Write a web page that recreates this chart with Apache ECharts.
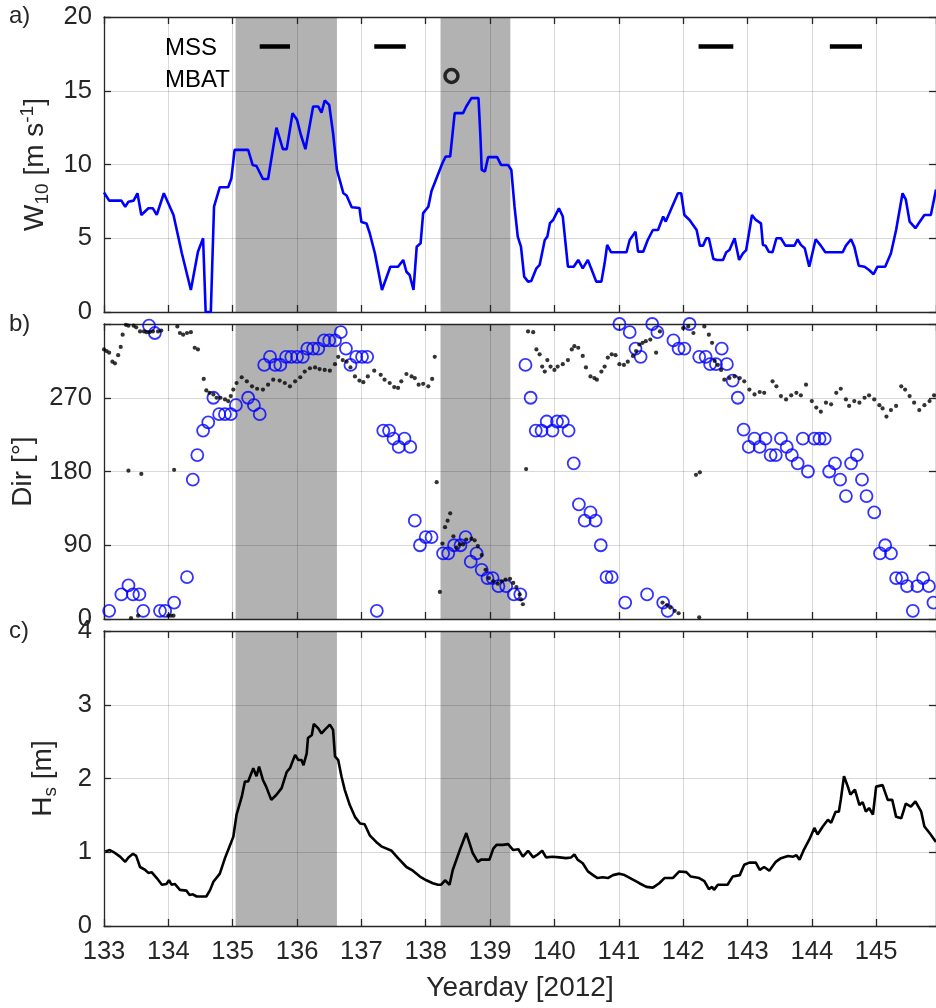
<!DOCTYPE html>
<html><head><meta charset="utf-8">
<script src="https://cdn.jsdelivr.net/npm/echarts@6/dist/echarts.min.js"></script>
<style>html,body{margin:0;padding:0;background:#fff}#c{width:936px;height:1008px}</style>
</head><body><div id="c"></div>
<script>
// ---------------- data ----------------
const dayTicks = [133,134,135,136,137,138,139,140,141,142,143,144,145];
const windTicks = [0,5,10,15,20];
const dirTicks = [0,90,180,270];
const hsTicks = [0,1,2,3,4];
const shadedPeriods = [[135.045,136.62],[138.23,139.315]];
const mssPeriods = [[135.42,135.89],[137.2,137.69],[142.24,142.78],[144.28,144.78]];
const mssLevel = 18;
const mbatPoint = [138.40,16.0];

const windSpeed = [
[133.00,8.1],[133.08,7.55],[133.27,7.55],[133.33,7.14],[133.38,7.48],[133.46,7.55],[133.52,8.05],[133.58,6.58],
[133.69,7.03],[133.76,7.03],[133.82,6.58],[133.93,8.05],[134.08,6.58],[134.21,3.98],[134.35,1.49],[134.46,4.09],
[134.54,5.0],[134.58,0.0],[134.66,0.0],[134.71,7.14],[134.80,8.46],[134.93,8.46],[134.98,9.07],[135.03,10.99],
[135.24,11.0],[135.31,9.97],[135.37,9.9],[135.47,9.02],[135.55,9.02],[135.68,12.5],[135.78,11.04],[135.84,11.04],
[135.93,13.48],[136.00,13.03],[136.06,12.0],[136.13,11.04],[136.25,13.93],[136.33,13.93],[136.38,13.52],[136.43,14.34],
[136.50,14.04],[136.56,12.12],[136.62,9.63],[136.72,8.05],[136.77,7.9],[136.85,7.1],[136.97,7.05],[137.00,6.1],
[137.08,6.0],[137.13,5.34],[137.21,3.98],[137.32,1.49],[137.45,3.07],[137.57,3.07],[137.65,3.53],[137.70,2.73],
[137.75,2.51],[137.81,1.49],[137.86,4.43],[137.92,4.66],[137.96,6.7],[138.04,7.14],[138.09,8.2],[138.26,10.1],
[138.31,10.54],[138.38,10.54],[138.45,13.48],[138.58,13.48],[138.63,13.93],[138.71,14.5],[138.82,14.5],[138.85,11.9],
[138.87,9.63],[138.92,9.52],[138.97,10.5],[139.11,10.5],[139.17,9.97],[139.28,9.97],[139.33,9.63],[139.38,7.14],
[139.43,5.11],[139.48,4.43],[139.53,2.4],[139.59,2.06],[139.64,2.1],[139.72,2.96],[139.77,3.19],[139.85,4.88],
[139.89,5.11],[139.93,6.02],[139.98,6.24],[140.07,7.03],[140.13,6.47],[140.21,3.07],[140.30,3.07],[140.37,3.53],
[140.44,2.96],[140.52,3.53],[140.57,2.96],[140.65,2.06],[140.73,2.06],[140.78,3.3],[140.82,4.55],[140.88,4.05],
[141.12,4.05],[141.17,4.88],[141.26,5.45],[141.30,4.09],[141.38,4.09],[141.45,4.88],[141.53,5.56],[141.61,5.56],
[141.69,6.47],[141.73,6.13],[141.92,8.05],[141.97,8.05],[142.02,6.58],[142.10,6.24],[142.21,5.56],[142.26,4.5],
[142.31,4.5],[142.36,5.0],[142.40,5.0],[142.47,3.6],[142.53,3.53],[142.62,3.53],[142.67,4.05],[142.72,4.2],
[142.80,5.0],[142.87,3.53],[142.93,3.98],[142.98,4.2],[143.07,6.58],[143.13,6.24],[143.21,6.01],[143.24,4.55],
[143.28,4.5],[143.33,4.09],[143.39,4.05],[143.45,5.0],[143.52,5.0],[143.59,4.5],[143.73,4.5],[143.78,4.93],
[143.83,4.55],[143.89,4.32],[143.96,3.07],[143.99,3.07],[144.06,4.93],[144.14,4.5],[144.21,4.05],[144.48,4.05],
[144.53,4.5],[144.61,4.93],[144.66,4.43],[144.73,3.14],[144.82,3.07],[144.89,2.85],[144.96,2.56],[145.02,3.07],
[145.14,3.07],[145.23,3.98],[145.31,5.56],[145.41,8.05],[145.46,7.64],[145.52,6.13],[145.61,5.68],[145.68,6.13],
[145.75,6.58],[145.85,6.58],[145.93,8.3]
];

const waveDir = [
[132.99,21],[133.08,10],[133.27,30],[133.38,41],[133.45,30],[133.55,30],[133.61,10],[133.70,358],[133.79,349],
[133.87,10],[133.95,10],[134.09,20],[134.29,51],[134.38,170],[134.45,200],[134.54,230],[134.62,240],[134.70,270],
[134.79,250],[134.88,250],[134.97,250],[135.05,261],[135.24,270],[135.33,261],[135.42,250],[135.49,310],[135.58,320],
[135.66,310],[135.74,310],[135.83,320],[135.91,320],[136.0,320],[136.09,320],[136.16,330],[136.25,330],[136.33,330],
[136.42,340],[136.5,340],[136.59,340],[136.68,350],[136.76,330],[136.83,310],[136.92,320],[137.01,320],[137.09,320],
[137.24,10],[137.34,230],[137.43,230],[137.5,220],[137.58,210],[137.67,220],[137.76,210],[137.83,120],[137.91,90],
[138.0,100],[138.09,100],[138.27,80],[138.35,80],[138.44,90],[138.54,90],[138.62,100],[138.7,70],[138.79,80],
[138.87,60],[138.96,50],[139.04,50],[139.13,40],[139.25,40],[139.37,30],[139.47,30],[139.55,310],[139.63,270],
[139.71,230],[139.8,230],[139.88,241],[139.97,230],[140.04,241],[140.13,241],[140.22,230],[140.3,190],[140.38,140],
[140.47,120],[140.56,130],[140.64,120],[140.72,90],[140.81,51],[140.89,51],[141.01,360],[141.1,20],[141.17,350],
[141.26,330],[141.34,320],[141.44,30],[141.52,360],[141.6,350],[141.69,20],[141.76,10],[141.85,340],[141.93,330],
[142.02,330],[142.1,360],[142.25,320],[142.35,320],[142.42,311],[142.51,311],[142.6,330],[142.68,311],[142.77,291],
[142.85,270],[142.94,231],[143.02,210],[143.11,220],[143.19,210],[143.28,220],[143.36,200],[143.44,200],[143.52,220],
[143.61,210],[143.69,200],[143.78,190],[143.86,220],[143.94,180],[144.04,220],[144.12,220],[144.2,220],[144.27,180],
[144.36,190],[144.44,170],[144.53,150],[144.61,190],[144.7,200],[144.78,170],[144.85,150],[144.97,130],[145.06,80],
[145.14,90],[145.23,80],[145.31,50],[145.4,50],[145.48,40],[145.57,10],[145.64,40],[145.73,50],[145.82,40],[145.89,20]
];

const windDir = [
[133.0,329],[133.04,327],[133.08,325],[133.13,314],[133.17,312],[133.22,322],[133.26,332],[133.29,347],[133.34,359],
[133.38,358],[133.46,358],[133.5,356],[133.56,351],[133.62,351],[133.66,350],[133.71,350],[133.76,351],[133.84,351],
[133.89,352],[134.14,357],[134.18,349],[134.23,347],[134.29,349],[134.35,350],[134.41,331],[134.46,329],[134.55,293],
[134.59,279],[134.64,276],[134.7,274],[134.75,270],[134.81,270],[134.88,268],[134.93,266],[134.97,272],[135.01,280],
[135.06,288],[135.14,295],[135.22,290],[135.3,284],[135.38,281],[135.47,280],[135.55,286],[135.63,292],[135.73,291],
[135.81,288],[135.89,284],[135.97,290],[136.05,295],[136.12,302],[136.2,306],[136.28,307],[136.35,305],[136.43,304],
[136.51,303],[136.59,311],[136.64,320],[136.71,316],[136.77,314],[136.83,307],[136.9,296],[136.97,291],[137.03,289],
[137.1,296],[137.2,303],[137.3,298],[137.36,292],[137.44,288],[137.51,283],[137.57,282],[137.62,290],[137.7,299],
[137.78,296],[137.83,294],[137.89,286],[137.96,287],[138.04,284],[138.1,293],
[133.38,181],[133.58,177],[134.09,182],[133.42,1],[133.53,4],[134.0,4],[134.04,4],[134.08,4],
[138.14,320],[138.17,167],[138.22,33],
[138.26,92],[138.3,112],[138.34,120],[138.38,129],[138.43,101],[138.48,87],[138.53,91],[138.58,91],[138.63,97],
[138.71,98],[138.76,96],[138.81,89],[138.87,78],[138.93,60],[138.98,50],[139.05,46],[139.12,43],[139.18,46],
[139.24,48],[139.31,49],[139.36,44],[139.41,39],[139.46,30],[139.48,24],[139.51,18],
[139.56,183],
[139.59,351],[139.67,350],[139.72,329],[139.77,323],[139.81,308],[139.85,302],[139.89,316],[139.94,308],[140.0,304],
[140.05,308],[140.13,311],[140.21,316],[140.27,329],[140.31,333],[140.37,331],[140.44,321],[140.49,307],[140.56,296],
[140.62,294],[140.66,292],[140.73,302],[140.78,308],[140.83,319],[140.89,323],[140.95,322],[141.01,311],[141.08,310],
[141.14,314],[141.22,321],[141.27,327],[141.32,335],[141.37,337],[141.42,339],[141.49,341],[141.58,325],[141.64,351],
[141.68,20],[141.75,17],[141.8,14],[141.87,10],[141.93,7],[142.2,176],[142.26,179],[142.25,2],
[142.0,355],[142.08,357],[142.16,349],[142.33,357],[142.4,347],[142.45,337],[142.49,315],[142.54,310],[142.59,304],
[142.64,292],[142.72,294],[142.8,296],[142.88,294],[142.95,290],[143.03,280],[143.11,274],[143.19,277],[143.26,276],
[143.39,290],[143.45,284],[143.52,272],[143.6,268],[143.68,273],[143.76,276],[143.83,273],[143.91,286],[144.0,266],
[144.07,258],[144.14,253],[144.22,264],[144.3,262],[144.38,276],[144.45,281],[144.53,268],[144.58,260],[144.66,266],
[144.74,264],[144.82,270],[144.89,273],[144.97,268],[145.05,261],[145.1,257],[145.16,247],[145.23,255],[145.31,260],
[145.39,284],[145.45,280],[145.52,272],[145.59,264],[145.67,255],[145.75,261],[145.83,266],[145.9,273]
];

const waveHeight = [
[133.02,1.01],[133.09,1.03],[133.17,0.99],[133.25,0.94],[133.33,0.87],[133.38,0.93],[133.45,0.98],[133.5,0.95],
[133.56,0.8],[133.64,0.76],[133.69,0.72],[133.74,0.73],[133.82,0.65],[133.9,0.56],[133.97,0.57],[134.01,0.62],
[134.05,0.56],[134.1,0.57],[134.18,0.49],[134.28,0.48],[134.33,0.42],[134.38,0.43],[134.44,0.40],[134.59,0.40],
[134.65,0.49],[134.70,0.6],[134.80,0.71],[134.88,0.92],[135.01,1.21],[135.06,1.51],[135.14,1.75],[135.19,1.96],
[135.24,1.96],[135.32,2.14],[135.37,2.03],[135.41,2.16],[135.47,1.98],[135.52,1.89],[135.6,1.71],[135.68,1.78],
[135.76,1.87],[135.84,2.09],[135.89,2.14],[135.97,2.32],[136.02,2.25],[136.07,2.25],[136.1,2.18],[136.15,2.34],
[136.17,2.55],[136.23,2.59],[136.26,2.74],[136.33,2.68],[136.38,2.61],[136.43,2.66],[136.51,2.73],[136.56,2.66],
[136.59,2.30],[136.64,2.25],[136.69,2.03],[136.74,1.85],[136.82,1.64],[136.9,1.48],[136.98,1.39],[137.05,1.38],
[137.13,1.23],[137.23,1.14],[137.31,1.08],[137.47,1.02],[137.57,0.92],[137.7,0.8],[137.8,0.75],[137.91,0.67],
[138.01,0.62],[138.11,0.58],[138.19,0.56],[138.24,0.56],[138.3,0.62],[138.37,0.56],[138.42,0.76],[138.53,1.03],
[138.63,1.26],[138.73,0.99],[138.81,0.87],[138.86,0.9],[138.99,0.9],[139.05,1.05],[139.1,1.1],[139.2,1.1],
[139.28,1.11],[139.36,1.03],[139.44,1.04],[139.51,0.94],[139.59,1.02],[139.67,0.93],[139.74,0.97],[139.81,1.02],
[139.87,0.93],[139.97,0.94],[140.08,0.93],[140.18,0.92],[140.26,0.93],[140.31,0.97],[140.36,0.9],[140.44,0.85],
[140.52,0.74],[140.6,0.69],[140.67,0.65],[140.75,0.66],[140.83,0.65],[140.91,0.69],[141.01,0.71],[141.09,0.69],
[141.22,0.63],[141.32,0.58],[141.43,0.53],[141.53,0.52],[141.63,0.58],[141.71,0.65],[141.84,0.65],[141.94,0.74],
[142.05,0.73],[142.12,0.67],[142.25,0.65],[142.33,0.61],[142.4,0.5],[142.45,0.53],[142.48,0.49],[142.54,0.56],
[142.69,0.56],[142.77,0.67],[142.88,0.69],[142.95,0.83],[143.03,0.86],[143.13,0.86],[143.19,0.76],[143.26,0.80],
[143.34,0.75],[143.44,0.87],[143.52,0.92],[143.63,0.95],[143.71,0.94],[143.76,0.96],[143.81,0.9],[143.88,1.04],
[143.96,1.17],[144.04,1.33],[144.09,1.24],[144.17,1.35],[144.25,1.44],[144.3,1.4],[144.37,1.55],[144.42,1.55],
[144.45,1.71],[144.5,2.03],[144.56,1.89],[144.6,1.78],[144.67,1.85],[144.74,1.64],[144.79,1.68],[144.84,1.55],
[144.89,1.6],[144.95,1.51],[145.0,1.89],[145.1,1.91],[145.18,1.71],[145.25,1.71],[145.31,1.48],[145.39,1.46],
[145.46,1.66],[145.54,1.62],[145.61,1.69],[145.7,1.55],[145.75,1.35],[145.83,1.26],[145.93,1.14]
];

// ---------------- chart ----------------
const FONT = '"Liberation Sans", Arial, Helvetica, sans-serif';
const TXT = '#262626';
const XMIN = 133, XMAX = 145.93;
const gridBoxes = [
  {left:104, top:17, width:833, height:295},
  {left:104, top:324, width:833, height:295},
  {left:104, top:631, width:833, height:295}
];
const lineStyleAx = {color:TXT, width:1.3};

function mkX(gi, top, showLabel){
  return {
    type:'value', gridIndex:gi, position: top ? 'top' : 'bottom',
    min:XMIN, max:XMAX, interval:1, z: 3,
    axisLine:{show:true, onZero:false, lineStyle:lineStyleAx},
    axisTick:{show:true, inside:true, length:7, lineStyle:lineStyleAx},
    splitLine:{show:!top, lineStyle:{color:'rgba(0,0,0,0.15)', width:1}},
    axisLabel:{show:showLabel, color:TXT, fontSize:25.6, fontFamily:FONT, margin:13,
      showMaxLabel:false, formatter: v => dayTicks.includes(v) ? String(v) : ''},
    name: showLabel ? 'Yearday [2012]' : '', nameLocation:'middle', nameGap:48,
    nameTextStyle:{color:TXT, fontSize:28, fontFamily:FONT}
  };
}
function mkY(gi, right, min, max, interval, ticks, name, nameGap, rich){
  return {
    type:'value', gridIndex:gi, position: right ? 'right' : 'left',
    min:min, max:max, interval:interval, z: 3,
    axisLine:{show:true, onZero:false, lineStyle:lineStyleAx},
    axisTick:{show:true, inside:true, length:7, lineStyle:lineStyleAx},
    splitLine:{show:!right, lineStyle:{color:'rgba(0,0,0,0.15)', width:1}},
    axisLabel:{show:!right, color:TXT, fontSize:25.6, fontFamily:FONT, margin:12,
      formatter: v => ticks.includes(v) ? String(v) : ''},
    name: right ? '' : name, nameLocation:'middle', nameRotate:90, nameGap:nameGap,
    nameTextStyle:{color:TXT, fontSize:28, fontFamily:FONT, rich:rich}
  };
}
const richBase = {
  m:{fontSize:28, fontFamily:FONT, color:TXT, lineHeight:34},
  s:{fontSize:19, fontFamily:FONT, color:TXT, verticalAlign:'bottom', lineHeight:22},
  p:{fontSize:19, fontFamily:FONT, color:TXT, verticalAlign:'top', lineHeight:22}
};

const xAxes = [], yAxes = [];
for (let g=0; g<3; g++){
  xAxes.push(mkX(g, false, g===2));
  xAxes.push(mkX(g, true, false));
}
yAxes.push(mkY(0,false,0,20,5,windTicks,'{m|W}{s|10}{m| [m s}{p|-1}{m|]}',51,richBase));
yAxes.push(mkY(0,true,0,20,5,windTicks,'',0,richBase));
yAxes.push(mkY(1,false,0,360,90,dirTicks,'{m|Dir [°]}',64,richBase));
yAxes.push(mkY(1,true,0,360,90,dirTicks,'',0,richBase));
yAxes.push(mkY(2,false,0,4,1,hsTicks,'{m|H}{s|s}{m| [m]}',44,richBase));
yAxes.push(mkY(2,true,0,4,1,hsTicks,'',0,richBase));

const series = [];
for (let g=0; g<3; g++){
  series.push({
    type:'line', xAxisIndex:2*g, yAxisIndex:2*g, data:[], z:1, silent:true,
    markArea:{silent:true, itemStyle:{color:'rgba(0,0,0,0.3)'},
      data: shadedPeriods.map(p => [{xAxis:p[0]},{xAxis:p[1]}])}
  });
}
series.push({type:'line', xAxisIndex:0, yAxisIndex:0, data:windSpeed, showSymbol:false,
  lineStyle:{color:'#0000ff', width:2.6}, z:4});
mssPeriods.forEach(p => series.push({type:'line', xAxisIndex:0, yAxisIndex:0,
  data:[[p[0],mssLevel],[p[1],mssLevel]], showSymbol:false, lineStyle:{color:'#000', width:4.3, cap:'butt'}, z:4}));
series.push({type:'scatter', xAxisIndex:0, yAxisIndex:0, data:[mbatPoint], symbol:'circle', symbolSize:13,
  itemStyle:{color:'rgba(0,0,0,0)', borderColor:'#000', borderWidth:3.5}, z:4});
series.push({type:'scatter', xAxisIndex:2, yAxisIndex:2, data:waveDir, symbol:'circle', symbolSize:12,
  itemStyle:{color:'rgba(0,0,0,0)', borderColor:'#0000ff', borderWidth:1.8}, z:4});
series.push({type:'scatter', xAxisIndex:2, yAxisIndex:2, data:windDir, symbol:'circle', symbolSize:4.2,
  itemStyle:{color:'#000'}, z:5});
series.push({type:'line', xAxisIndex:4, yAxisIndex:4, data:waveHeight, showSymbol:false,
  lineStyle:{color:'#000', width:2.6}, z:4});

const chart = echarts.init(document.getElementById('c'), null, {renderer:'canvas'});
chart.setOption({
  animation:false,
  backgroundColor:'#fff',
  grid: gridBoxes.map(b => Object.assign({containLabel:false}, b)),
  xAxis: xAxes, yAxis: yAxes, series: series,
  graphic: [
    {type:'text', left:9, top:4, style:{text:'a)', fontSize:24, fontFamily:FONT, fill:TXT}},
    {type:'text', left:9, top:312, style:{text:'b)', fontSize:24, fontFamily:FONT, fill:TXT}},
    {type:'text', left:9, top:619, style:{text:'c)', fontSize:24, fontFamily:FONT, fill:TXT}},
    {type:'text', left:165, top:36, style:{text:'MSS', fontSize:24, fontFamily:FONT, fill:'#000'}},
    {type:'text', left:165, top:68, style:{text:'MBAT', fontSize:24, fontFamily:FONT, fill:'#000'}}
  ]
});
</script>
</body></html>
